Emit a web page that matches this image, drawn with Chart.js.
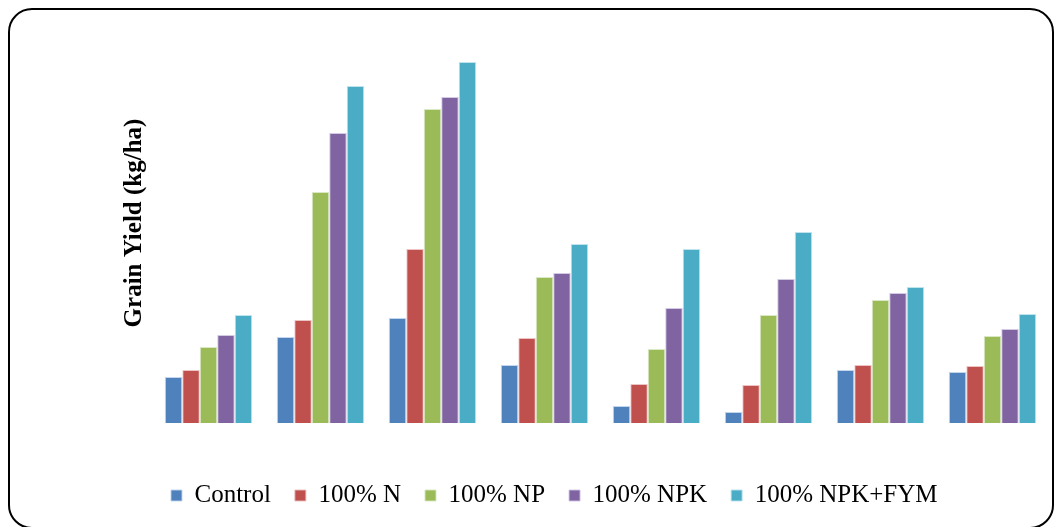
<!DOCTYPE html>
<html>
<head>
<meta charset="utf-8">
<script src="https://cdn.jsdelivr.net/npm/chart.js@4.4.1/dist/chart.umd.min.js"></script>
<style>
  html, body { margin: 0; padding: 0; background: #fff; }
  #wrap { position: relative; width: 1062px; height: 527px; }
  #frame {
    position: absolute; left: 8px; top: 8px; width: 1046px; height: 521px;
    border: 2px solid #000; border-radius: 24px; box-sizing: border-box;
    pointer-events: none;
  }
</style>
</head>
<body>
<div id="wrap">
  <canvas id="yield"></canvas>
  <div id="frame"></div>
</div>
<script>
const sites = ['1', '2', '3', '4', '5', '6', '7', '8'];

const control = [460, 860, 1050, 580, 170, 110, 530, 510];
const n100 = [530, 1030, 1740, 850, 390, 380, 580, 570];
const np100 = [760, 2310, 3140, 1460, 740, 1080, 1230, 870];
const npk100 = [880, 2900, 3260, 1500, 1150, 1440, 1300, 940];
const npkFym = [1080, 3370, 3610, 1790, 1740, 1910, 1360, 1090];

const ctx = document.getElementById('yield');

function series(label, data, fill, edge) {
  return {
    label: label,
    data: data,
    backgroundColor: fill,
    borderColor: edge,
    borderWidth: 1,
    categoryPercentage: 0.78,
    barPercentage: 1.0
  };
}

new Chart(ctx, {
  type: 'bar',
  data: {
    labels: sites,
    datasets: [
      series('Control', control, '#4F81BD', 'rgba(190, 210, 235, 0.9)'),
      series('100% N', n100, '#C0504D', 'rgba(235, 190, 190, 0.9)'),
      series('100% NP', np100, '#9BBB59', 'rgba(215, 230, 190, 0.9)'),
      series('100% NPK', npk100, '#8064A2', 'rgba(205, 195, 225, 0.9)'),
      series('100% NPK+FYM', npkFym, '#4BACC6', 'rgba(185, 225, 235, 0.9)')
    ]
  },
  options: {
    responsive: true,
    maintainAspectRatio: false,
    animation: false,
    layout: {
      padding: { left: 60, right: 13.5, top: 23, bottom: 18 }
    },
    scales: {
      x: {
        grid: { display: false },
        border: { display: false },
        ticks: { display: false },
        afterFit: function (axis) { axis.height = 36; }
      },
      y: {
        min: 0,
        max: 4000,
        grid: { display: false },
        border: { display: false },
        ticks: { display: false },
        title: {
          display: true,
          text: 'Grain Yield (kg/ha)',
          color: '#000',
          font: { family: '"Liberation Serif", "Times New Roman", serif', size: 25, weight: 'bold' },
          padding: { top: 60, bottom: 0 }
        },
        afterFit: function (axis) { axis.width = 92.5; }
      }
    },
    plugins: {
      legend: {
        position: 'bottom',
        maxHeight: 50,
        labels: {
          color: '#000',
          boxWidth: 11,
          boxHeight: 11,
          padding: 24,
          font: { family: '"Liberation Serif", "Times New Roman", serif', size: 25 }
        }
      },
      tooltip: { enabled: false }
    }
  }
});
</script>
</body>
</html>
